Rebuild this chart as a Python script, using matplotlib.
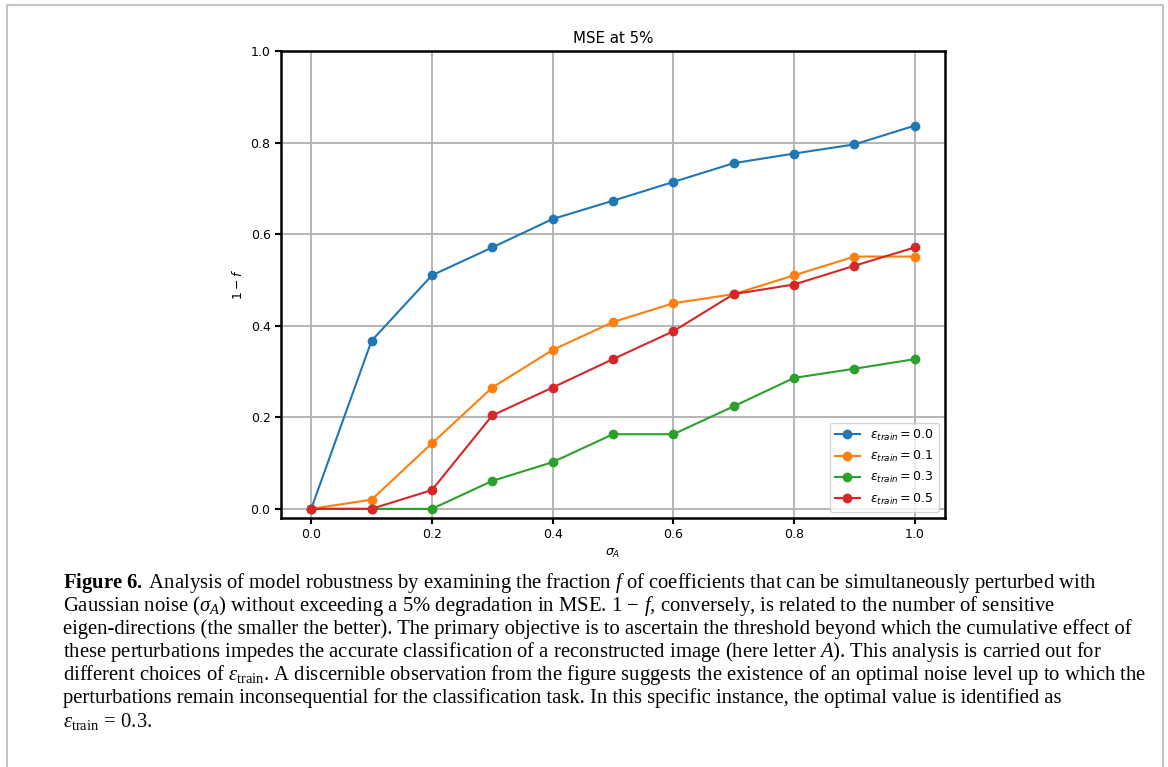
import numpy as np
import matplotlib
matplotlib.use("Agg")
import matplotlib.pyplot as plt
from matplotlib.lines import Line2D

# data (values of 1 - f)
sigma_A = [0.0, 0.1, 0.2, 0.3, 0.4, 0.5, 0.6, 0.7, 0.8, 0.9, 1.0]
eps_00 = [0.0, 0.367, 0.510, 0.571, 0.633, 0.673, 0.714, 0.755, 0.776, 0.796, 0.837]
eps_01 = [0.0, 0.020, 0.143, 0.265, 0.347, 0.408, 0.449, 0.469, 0.510, 0.551, 0.551]
eps_03 = [0.0, 0.0, 0.0, 0.061, 0.102, 0.163, 0.163, 0.224, 0.286, 0.306, 0.327]
eps_05 = [0.0, 0.0, 0.041, 0.204, 0.265, 0.327, 0.388, 0.469, 0.490, 0.531, 0.571]
labels = ['0.0', '0.1', '0.3', '0.5']
colors = ['#1f77b4', '#ff7f0e', '#2ca02c', '#d62728']

caption = [
    r"$\mathbf{Figure\ 6.}\;$Analysis of model robustness by examining the fraction $f$ of coefficients that can be simultaneously perturbed with",
    r"Gaussian noise ($\sigma_A$) without exceeding a 5% degradation in MSE. $1\,-\,f$, conversely, is related to the number of sensitive",
    r"eigen-directions (the smaller the better). The primary objective is to ascertain the threshold beyond which the cumulative effect of",
    r"these perturbations impedes the accurate classification of a reconstructed image (here letter $A$). This analysis is carried out for",
    r"different choices of $\epsilon_{\rm train}$. A discernible observation from the figure suggests the existence of an optimal noise level up to which the",
    r"perturbations remain inconsequential for the classification task. In this specific instance, the optimal value is identified as",
    r"$\epsilon_{\rm train}\,=\,0.3$.",
]

plt.rcParams['mathtext.fontset'] = 'custom'
plt.rcParams['mathtext.rm'] = 'Liberation Serif'
plt.rcParams['mathtext.it'] = 'Liberation Serif:italic'
plt.rcParams['mathtext.bf'] = 'Liberation Serif:bold'

W, H = 1168, 767
fig = plt.figure(figsize=(W/100, H/100), dpi=100)

# page frame
fig.add_artist(Line2D([7/W, 7/W, 1163/W, 1163/W], [0, 1-5/H, 1-5/H, 0],
                      transform=fig.transFigure, color='#c4c4c4', lw=1.5))

ax = fig.add_axes([281/W, 1-518/H, 664/W, 467/H])
series = [eps_00, eps_01, eps_03, eps_05]
for vals, lab, c in zip(series, labels, colors):
    ax.plot(sigma_A, vals, marker='o', color=c, lw=1.5, ms=6,
            label=r'$\varepsilon_{train} = %s$' % lab)

ax.set_ylim(-0.02, 1.0)
ax.set_xlim(-0.05, 1.05)
ax.set_xticks([0.0, 0.2, 0.4, 0.6, 0.8, 1.0])
ax.set_yticks([0.0, 0.2, 0.4, 0.6, 0.8, 1.0])
ax.grid(True, color='#b0b0b0', lw=1.3)
ax.set_axisbelow(True)
for s in ax.spines.values():
    s.set_linewidth(1.8)
ax.tick_params(labelsize=9, width=1.5, length=4)
ax.set_title('MSE at 5%', fontsize=10.8)
ax.set_xlabel(r'$\sigma_A$', fontsize=9, math_fontfamily='dejavusans')
ax.set_ylabel(r'$1-f$', fontsize=9, math_fontfamily='dejavusans')
leg = ax.legend(loc='lower right', fontsize=9)
for t in leg.get_texts():
    t.set_math_fontfamily('dejavusans')

y0 = 583
for i, line in enumerate(caption):
    fig.text(63/W, 1-(y0 + 23.1*i)/H, line, family='Liberation Serif',
             fontsize=14.9, va='center', ha='left')

fig.savefig('out.png', dpi=100)
